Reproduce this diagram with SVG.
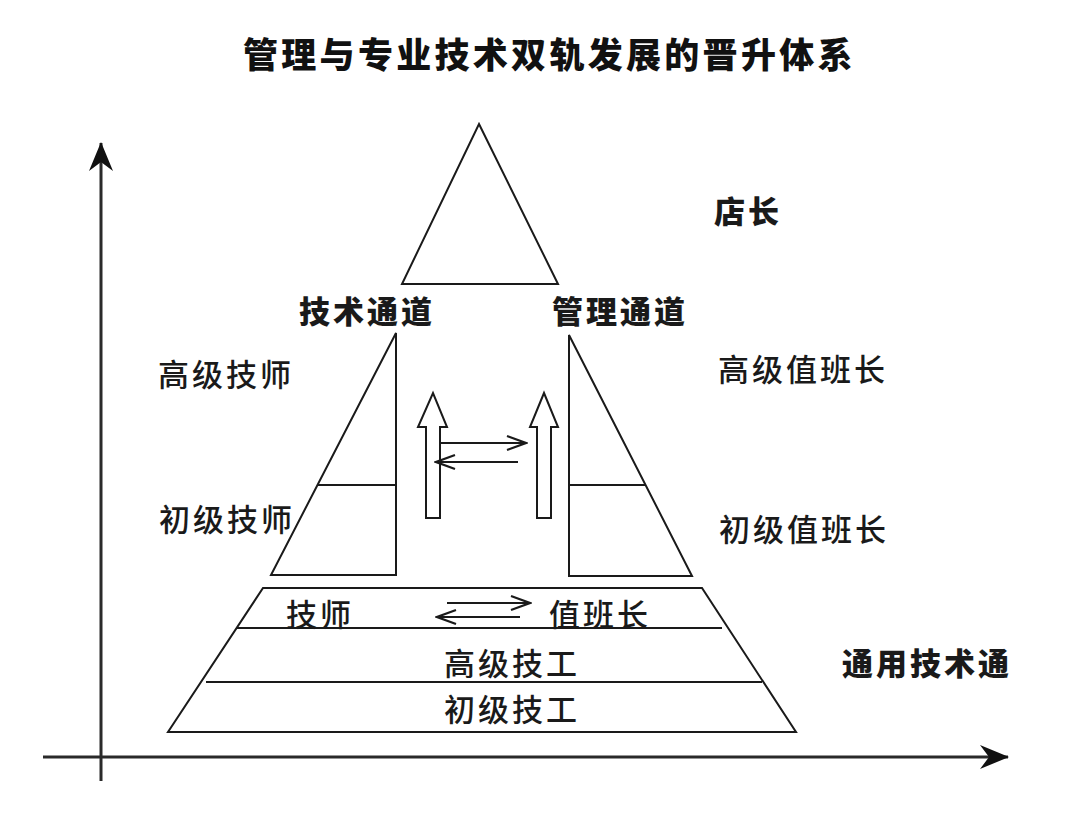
<svg xmlns="http://www.w3.org/2000/svg" width="1069" height="820" viewBox="0 0 1069 820">
  <style>
    .shape { fill: #ffffff; stroke: #1a1a1a; stroke-width: 2; stroke-linejoin: miter; }
    .ln { stroke: #1a1a1a; stroke-width: 2; fill: none; }
    .axis { stroke: #2a2a2a; stroke-width: 3; fill: none; }
    .arr { stroke: #1a1a1a; stroke-width: 2; fill: none; }
    .t { font-family: "Noto Sans CJK SC", "Noto Sans", sans-serif; font-size: 31px; letter-spacing: 3px; font-weight: 500; fill: #1a1a1a; }
    .b { font-weight: 900; }
    .title { font-family: "Noto Sans CJK SC", "Noto Sans", sans-serif; font-size: 35px; letter-spacing: 3.3px; font-weight: 900; fill: #111111; }
  </style>
  <defs>
    <marker id="axhead" viewBox="-30 -14 32 28" refX="0" refY="0" markerWidth="32" markerHeight="28" markerUnits="userSpaceOnUse" orient="auto">
      <path d="M1,0 L-28,-12 L-19,0 L-28,12 Z" fill="#111111"/>
    </marker>
    <marker id="openhead" viewBox="-22 -10 24 20" refX="0" refY="0" markerWidth="24" markerHeight="20" markerUnits="userSpaceOnUse" orient="auto">
      <path d="M-19,-7 L0,0 L-19,7" fill="none" stroke="#1a1a1a" stroke-width="2.2"/>
    </marker>
  </defs>
  <rect x="0" y="0" width="1069" height="820" fill="#ffffff"/>

  <text class="title" x="243" y="68">管理与专业技术双轨发展的晋升体系</text>

  <g id="top-triangle">
    <polygon class="shape" points="479,124 558,284 402,284"/>
    <text class="t b" x="714" y="223">店长</text>
  </g>

  <g id="tech-channel">
    <polygon class="shape" points="396,333 396,575 271,575"/>
    <line class="ln" x1="318" y1="485" x2="396" y2="485"/>
    <text class="t b" x="299" y="323">技术通道</text>
    <text class="t" x="158" y="386">高级技师</text>
    <text class="t" x="159" y="531">初级技师</text>
  </g>

  <g id="mgmt-channel">
    <polygon class="shape" points="569,335 692,576 569,576"/>
    <line class="ln" x1="569" y1="485" x2="645" y2="485"/>
    <text class="t b" x="552" y="323">管理通道</text>
    <text class="t" x="718" y="381">高级值班长</text>
    <text class="t" x="719" y="541">初级值班长</text>
  </g>

  <g id="up-arrow-left">
    <polygon class="shape" points="426,518 440,518 440,427 447,427 433,393 418,427 426,427"/>
  </g>
  <g id="up-arrow-right">
    <polygon class="shape" points="537,518 551,518 551,427 558,427 544,393 530,427 537,427"/>
  </g>

  <g id="general-channel">
    <polygon class="shape" points="263,588 702,588 796,732 168,732"/>
    <line class="ln" x1="237" y1="628" x2="722" y2="628"/>
    <line class="ln" x1="206" y1="682" x2="762" y2="682"/>
    <text class="t" x="286" y="626">技师</text>
    <text class="t" x="549" y="626">值班长</text>
    <text class="t" x="444" y="675">高级技工</text>
    <text class="t" x="444" y="721">初级技工</text>
    <text class="t b" x="842" y="675">通用技术通</text>
  </g>

  <g id="connectors">
    <line class="axis" x1="101" y1="781" x2="101" y2="143" marker-end="url(#axhead)"/>
    <line class="axis" x1="43" y1="757" x2="1008" y2="757" marker-end="url(#axhead)"/>
    <line class="arr" x1="440" y1="443" x2="526" y2="443" marker-end="url(#openhead)"/>
    <line class="arr" x1="518" y1="462" x2="436" y2="462" marker-end="url(#openhead)"/>
    <line class="arr" x1="447" y1="603" x2="530" y2="603" marker-end="url(#openhead)"/>
    <line class="arr" x1="520" y1="617" x2="437" y2="617" marker-end="url(#openhead)"/>
  </g>
</svg>
